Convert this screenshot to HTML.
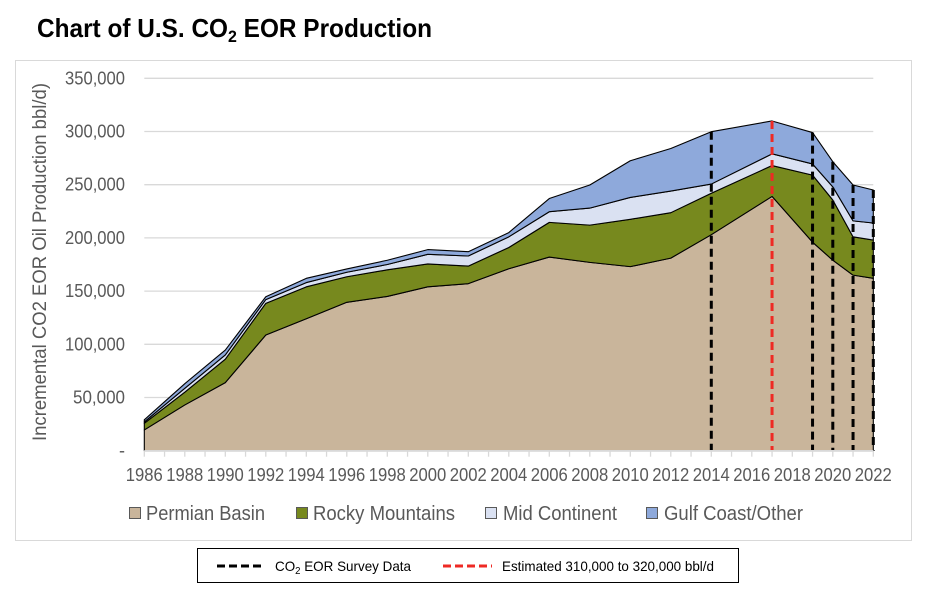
<!DOCTYPE html>
<html><head><meta charset="utf-8"><style>
html,body{margin:0;padding:0;background:#fff;}
svg{display:block;}
text{font-family:"Liberation Sans Narrow","Liberation Sans",sans-serif;}
</style></head><body>
<svg id="chart" width="932" height="591" viewBox="0 0 932 591" xmlns="http://www.w3.org/2000/svg">
<text x="37" y="37" font-size="26" font-weight="bold" fill="#000" textLength="395" lengthAdjust="spacingAndGlyphs">Chart of U.S. CO<tspan font-size="17" dy="5">2</tspan><tspan dy="-5"> EOR Production</tspan></text>
<rect x="15.5" y="60.5" width="896" height="480" fill="#fff" stroke="#d9d9d9"/>
<g id="grid"></g>
<g id="areas"></g>
<g id="refs"></g>
<g id="axes"></g>
<text transform="translate(46,262) rotate(-90)" text-anchor="middle" font-size="19" fill="#595959" textLength="358" lengthAdjust="spacingAndGlyphs">Incremental CO2 EOR Oil Production bbl/d)</text>
<g>
<rect x="129.5" y="507.5" width="11" height="11" fill="#c9b59b" stroke="#595959"/>
<text x="146" y="520" font-size="20" fill="#595959" textLength="119" lengthAdjust="spacingAndGlyphs">Permian Basin</text>
<rect x="296.5" y="507.5" width="11" height="11" fill="#77891e" stroke="#595959"/>
<text x="313" y="520" font-size="20" fill="#595959" textLength="142" lengthAdjust="spacingAndGlyphs">Rocky Mountains</text>
<rect x="485.5" y="507.5" width="11" height="11" fill="#dae1f2" stroke="#595959"/>
<text x="503" y="520" font-size="20" fill="#595959" textLength="114" lengthAdjust="spacingAndGlyphs">Mid Continent</text>
<rect x="646.5" y="507.5" width="11" height="11" fill="#8ea9db" stroke="#595959"/>
<text x="664" y="520" font-size="20" fill="#595959" textLength="139" lengthAdjust="spacingAndGlyphs">Gulf Coast/Other</text>
</g>
<g>
<rect x="197.5" y="548.5" width="541" height="34" fill="#fff" stroke="#000"/>
<line x1="217" y1="566" x2="262" y2="566" stroke="#000" stroke-width="3" stroke-dasharray="8,4"/>
<text x="275" y="571" font-size="14" fill="#000" textLength="136" lengthAdjust="spacingAndGlyphs">CO<tspan font-size="10" dy="3">2</tspan><tspan dy="-3"> EOR Survey  Data</tspan></text>
<line x1="443" y1="566" x2="492" y2="566" stroke="#ee2a24" stroke-width="3" stroke-dasharray="8,4"/>
<text x="502" y="571" font-size="14" fill="#000" textLength="212" lengthAdjust="spacingAndGlyphs">Estimated 310,000 to 320,000 bbl/d</text>
</g>
</svg>
<script>
const years = [1986,1988,1990,1992,1994,1996,1998,2000,2002,2004,2006,2008,2010,2012,2014,2017,2019,2020,2021,2022];
const permian = [19500,43000,64000,108700,124000,139500,145000,154000,157000,171000,182000,177000,173000,181000,203000,239000,196000,179000,165000,162000];
const rocky = [6200,12000,22000,29800,30000,24000,25000,21500,16500,20000,32600,35000,44500,42700,39000,29000,63000,56600,36000,36000];
const midCont = [1300,3600,4000,3500,4000,4200,5000,9100,9500,10000,10000,16000,20500,20300,8600,11000,10500,12400,15000,16000];
const gulf = [2000,4400,4600,2700,4000,3100,4000,4400,4000,4000,12400,21700,34500,40000,49200,30900,29500,23600,33700,31000];
const tickYears = [1986,1988,1990,1992,1994,1996,1998,2000,2002,2004,2006,2008,2010,2012,2014,2016,2018,2020,2022];
const yTicks = [0,50000,100000,150000,200000,250000,300000,350000];
const surveyYears = [2014,2019,2020,2021,2022];
const estimateYears = [2017];

const NS = "http://www.w3.org/2000/svg";
const X0 = 144.3, X1 = 873.3, Y0 = 450.7, Y1 = 78.3;
const xs = y => X0 + (y - 1986) / (2022 - 1986) * (X1 - X0);
const ys = v => Y0 - v / 350000 * (Y0 - Y1);
function mk(tag, attrs, parent){ const e=document.createElementNS(NS,tag); for(const k in attrs) e.setAttribute(k,attrs[k]); parent.appendChild(e); return e; }
const grid=document.getElementById('grid'), areas=document.getElementById('areas'), refs=document.getElementById('refs'), axes=document.getElementById('axes');

yTicks.forEach(v=>{
  if(v>0){ const l=mk('line',{x1:X0,x2:X1,y1:ys(v),y2:ys(v),stroke:'#d9d9d9','stroke-width':1.3},grid);
  
   }
  const t=mk('text',{x:125,y:ys(v)+6,'text-anchor':'end','font-size':18,fill:'#595959'},axes);
  t.textContent = v===0 ? '-' : v.toLocaleString('en-US');
  if(v>0){ t.setAttribute('textLength', v>=100000?60:52); t.setAttribute('lengthAdjust','spacingAndGlyphs'); }
  
  
});

const series=[permian,rocky,midCont,gulf];
const fills=['#c9b59b','#77891e','#dae1f2','#8ea9db'];
const names=['area-permian-basin','area-rocky-mountains','area-mid-continent','area-gulf-coast-other'];
const cum=[]; let base=years.map(()=>0);
series.forEach((s,i)=>{
  const top=s.map((v,j)=>base[j]+v);
  let d='M'+years.map((y,j)=>xs(y)+','+ys(top[j])).join(' L');
  for(let j=years.length-1;j>=0;j--) d+=' L'+xs(years[j])+','+ys(base[j]);
  d+='Z';
  const p=mk('path',{d:d,fill:fills[i],stroke:'#000','stroke-width':1.1,'stroke-linejoin':'round'},areas);
  
  
  cum.push(top); base=top;
});
const totals=cum[3];
function refLine(yr,color,name){
  let j=years.indexOf(yr);
  const tv = j>=0 ? totals[j] : 0;
  const l=mk('line',{x1:xs(yr),x2:xs(yr),y1:ys(tv),y2:Y0,stroke:color,'stroke-width':3,'stroke-dasharray':'8,5'},refs);
  
  
}
surveyYears.forEach(y=>refLine(y,'#000','survey-data-line'));
estimateYears.forEach(y=>refLine(y,'#ee2a24','estimate-line'));

const ax=mk('line',{x1:X0,x2:X1,y1:Y0,y2:Y0,stroke:'#d9d9d9','stroke-width':1.3},axes);


for(let y=1986;y<=2022;y++){
  const t=mk('line',{x1:xs(y),x2:xs(y),y1:Y0,y2:Y0+6,stroke:'#d9d9d9','stroke-width':1.3},axes);
  
  
}
tickYears.forEach(y=>{
  const t=mk('text',{x:xs(y),y:481,'text-anchor':'middle','font-size':18,fill:'#595959',textLength:37,lengthAdjust:'spacingAndGlyphs'},axes);
  t.textContent=y;
  
  
});
</script>
</body></html>
